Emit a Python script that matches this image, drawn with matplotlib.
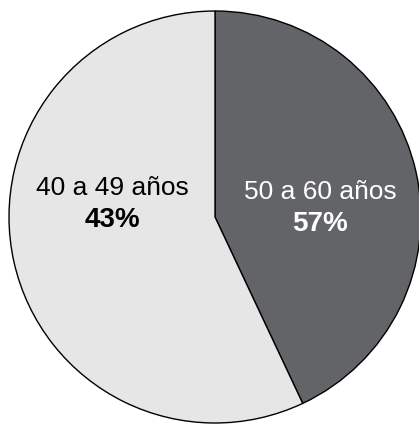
import matplotlib.pyplot as plt

# Slice data (clockwise from 12 o'clock): dark slice first, then light slice
shares = [43, 57]
slice_colors = ["#636468", "#e6e6e6"]
group_labels = ["50 a 60 años", "40 a 49 años"]
pct_labels = ["57%", "43%"]
text_colors = ["white", "black"]

# Figure geometry in pixels
W, H = 419, 425
cx, cy, r = 215, 217, 206

fig = plt.figure(figsize=(W / 100, H / 100), dpi=100)
ax = fig.add_axes([0, 0, 1, 1])

ax.pie(shares, colors=slice_colors, startangle=90, counterclock=False,
       radius=1, center=(0, 0),
       wedgeprops=dict(edgecolor="black", linewidth=1.0))

ax.set_xlim(-cx / r, (W - cx) / r)
ax.set_ylim(-(H - cy) / r, cy / r)
ax.set_aspect("auto")
ax.axis("off")


def px(x, y):
    return (x - cx) / r, (cy - y) / r


# label positions in pixels (name line, percent line)
label_pos = [((320, 192), (320, 224)), ((112, 188), (112, 220))]

for i in range(len(shares)):
    (x1, y1), (x2, y2) = label_pos[i]
    ax.text(*px(x1, y1), group_labels[i], ha="center", va="center",
            fontsize=19, color=text_colors[i], family="Liberation Sans")
    ax.text(*px(x2, y2), pct_labels[i], ha="center", va="center",
            fontsize=20, fontweight="heavy", color=text_colors[i],
            family="Liberation Sans")

fig.savefig("out.png", dpi=100, facecolor="white")
